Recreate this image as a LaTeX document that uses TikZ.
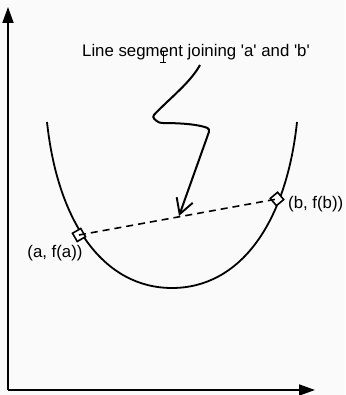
\documentclass[tikz,border=0pt]{standalone}
\usepackage{fontspec}
\setmainfont{Liberation Sans}
\usetikzlibrary{arrows.meta}
\begin{document}
\begin{tikzpicture}[x=1pt,y=1pt,
  axis/.style={line width=1.8pt,-{Triangle[length=16pt,width=11pt]}},
  curve/.style={line width=1.8pt},
  marker/.style={draw,fill=white,line width=1.6pt,minimum size=9.5pt,inner sep=0pt},
  lbl/.style={font=\fontsize{16.8}{20}\selectfont,inner sep=0pt},
  bolt/.style={line width=2pt,rounded corners=3pt,-{Straight Barb[length=15pt,width=17pt,line width=1.9pt]}}]
\useasboundingbox[fill=white!98!black] (0,0) rectangle (345,395);
% axes
\coordinate (O) at (8,5);
\coordinate (Ytop) at (8,388);
\coordinate (Xend) at (315,5);
\draw[axis] (O) -- (Ytop);
\draw[axis] (O) -- (Xend);
% convex curve
\coordinate (L) at (47,273);
\coordinate (M) at (172,107);
\coordinate (R) at (297,273);
\draw[curve] (L) .. controls (58,170) and (105,107) .. (M)
              .. controls (239,107) and (286,170) .. (R);
% chord and markers
\node[marker,rotate=30] (A) at (79,160) {};
\node[marker,rotate=40] (B) at (277,196) {};
\draw[line width=1.6pt,dash pattern=on 7pt off 5pt] (A.center) -- (B.center);
\node[lbl,anchor=north] (la) at (55,150) {(a, f(a))};
\node[lbl,anchor=west] (lb) at (288,191) {(b, f(b))};
% caption and lightning arrow
\node[lbl] (cap) at (196,343) {Line segment joining \textquotesingle a\textquotesingle{} and \textquotesingle b\textquotesingle};
\coordinate (s0) at (200,330);
\coordinate (tip) at (179,179);
\draw[bolt] (s0) .. controls (190,312) and (170,297) .. (152,278)
   -- (159,272) .. controls (185,272) and (200,270) .. (210,266) -- (tip);
% I-beam cursor
\coordinate (c0) at (163,343);
\coordinate (c1) at (163,332);
\draw[line width=1pt] (c0) -- (c1);
\draw[line width=1pt] ([xshift=-3pt]c0) -- ([xshift=3pt]c0);
\draw[line width=1pt] ([xshift=-3pt]c1) -- ([xshift=3pt]c1);
\end{tikzpicture}
\end{document}
